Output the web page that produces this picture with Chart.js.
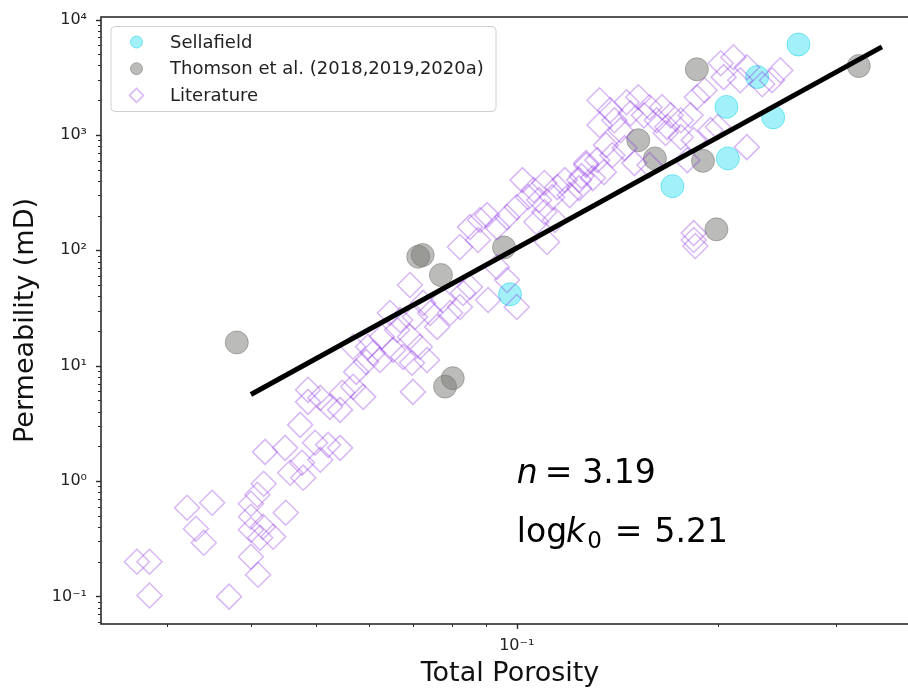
<!DOCTYPE html>
<html>
<head>
<meta charset="utf-8">
<script src="https://cdn.jsdelivr.net/npm/chart.js@4.4.0/dist/chart.umd.min.js"></script>
<style>
  html, body { margin: 0; padding: 0; background: #fff; overflow: hidden; }
  #wrap { width: 908px; height: 690px; overflow: hidden; position: relative; }
  #chart { position: absolute; left: 0; top: 0; }
</style>
</head>
<body>
<div id="wrap"><canvas id="chart" width="933" height="690"></canvas></div>
<script>
// Porosity (fraction) and permeability (mD) for each group of samples
const sellafieldPhi = [0.264, 0.229, 0.206, 0.242, 0.207, 0.171, 0.0977];
const sellafieldK   = [6080, 3180, 1750, 1420, 626, 360, 41.6];

const thomsonPhi = [0.186, 0.152, 0.161, 0.190, 0.325, 0.199, 0.0381, 0.0712, 0.0723, 0.0770, 0.0957, 0.0781, 0.0802];
const thomsonK   = [3710, 900, 626, 597, 3960, 152, 15.9, 88.0, 91.0, 61.1, 106, 6.59, 7.80];

const literaturePhi = [
  0.0270, 0.0282, 0.0282, 0.0321, 0.0350, 0.0331, 0.0340, 0.0371, 0.0400, 0.0400,
  0.0400, 0.0400, 0.0410, 0.0409, 0.0420, 0.0417, 0.0432, 0.0451, 0.0450, 0.0458,
  0.0418, 0.0413, 0.0479, 0.0499, 0.0477, 0.0522, 0.0544, 0.0508, 0.0487, 0.0508,
  0.0525, 0.0548, 0.0569, 0.0589, 0.0544, 0.0487, 0.0569, 0.0599, 0.0609, 0.0624,
  0.0628, 0.0653, 0.0662, 0.0669, 0.0676, 0.0692, 0.0697, 0.0704, 0.0716, 0.0699,
  0.0692, 0.0734, 0.0646, 0.0595, 0.0575, 0.0742, 0.0760, 0.0795, 0.0822, 0.0776,
  0.0724, 0.0831, 0.0851, 0.0906, 0.0934, 0.0967, 0.100, 0.0822, 0.0851, 0.0881,
  0.0903, 0.0934, 0.0967, 0.100, 0.102, 0.104, 0.0875, 0.106, 0.108, 0.110,
  0.113, 0.115, 0.118, 0.120, 0.124, 0.125, 0.127, 0.130, 0.110, 0.107,
  0.111, 0.114, 0.146, 0.152, 0.158, 0.165, 0.170, 0.148, 0.155, 0.162,
  0.168, 0.176, 0.182, 0.176, 0.184, 0.167, 0.195, 0.200, 0.150, 0.158,
  0.180, 0.221, 0.191, 0.186, 0.202, 0.211, 0.204, 0.216, 0.248, 0.241,
  0.233, 0.221, 0.127, 0.124, 0.184, 0.184, 0.185, 0.133, 0.138, 0.133,
  0.143, 0.136, 0.139, 0.145, 0.132, 0.140, 0.0474, 0.135
];
const literatureK = [
  0.200, 0.200, 0.102, 0.587, 0.649, 0.386, 0.292, 0.0996, 0.636, 0.491,
  0.379, 0.221, 0.154, 0.761, 1.79, 0.402, 0.329, 0.532, 1.94, 1.18,
  0.947, 0.323, 1.07, 2.15, 1.44, 2.06, 1.94, 1.53, 6.18, 5.26,
  4.40, 5.82, 6.56, 5.37, 4.14, 4.86, 14.6, 14.6, 12.9, 11.2,
  17.8, 13.7, 20.4, 24.9, 11.9, 17.8, 10.6, 26.4, 14.6, 5.93,
  50.1, 11.2, 28.6, 10.8, 8.84, 28.6, 21.7, 28.6, 32.3, 37.1,
  35.0, 42.7, 48.1, 37.1, 71.7, 55.3, 32.3, 107, 159, 183,
  202, 159, 194, 237, 406, 289, 123, 333, 273, 383,
  289, 353, 406, 301, 346, 440, 548, 423, 215, 176,
  118, 183, 1920, 2120, 1740, 1740, 1480, 1540, 1480, 1340,
  1170, 1340, 1480, 957, 902, 1040, 1100, 1170, 570, 548,
  605, 784, 2440, 2120, 4180, 4710, 3170, 2980, 3640, 2980,
  2750, 3860, 570, 406, 141, 123, 109, 2000, 1640, 1220,
  1100, 816, 668, 769, 605, 1340, 3.07, 476
];

// Power-law fit k = k0 * phi^n
const fitN = 3.19;
const fitLogK0 = 5.21;
const fitPhiRange = [0.04, 0.352];

const xMin = 0.02386, xMax = 0.40;
const yMin = 0.0577, yMax = 10530;

const FONT = "'DejaVu Sans', 'Liberation Sans', sans-serif";
Chart.defaults.font.family = FONT;
Chart.defaults.color = '#222';

const toPoints = (xs, ys) => xs.map((x, i) => ({ x, y: ys[i] }));
const fitLine = fitPhiRange.map(p => ({ x: p, y: Math.pow(10, fitLogK0) * Math.pow(p, fitN) }));

const SUP = { '-': '\u207B', '0': '\u2070', '1': '\u00B9', '2': '\u00B2', '3': '\u00B3',
  '4': '\u2074', '5': '\u2075', '6': '\u2076', '7': '\u2077', '8': '\u2078', '9': '\u2079' };

const isDecade = v => { const e = Math.log10(v); return Math.abs(e - Math.round(e)) < 1e-9; };

function decadeLabel(value) {
  if (!isDecade(value)) return '';
  return '10' + String(Math.round(Math.log10(value))).split('').map(c => SUP[c]).join('');
}

// major ticks at powers of ten, minor ticks at 2..9 times them
function logTicks(scale) {
  const ticks = [];
  for (let d = -3; d <= 5; d++) {
    for (let m = 1; m <= 9; m++) {
      const v = m * Math.pow(10, d);
      if (v >= scale.min && v <= scale.max) ticks.push({ value: v });
    }
  }
  scale.ticks = ticks;
}

// keep the plot box fixed: no extra room reserved for edge labels
function noEdgePadding(s) {
  s.paddingTop = 0; s.paddingBottom = 0; s.paddingLeft = 0; s.paddingRight = 0;
}

const styles = {
  sellafield: { fill: 'rgba(0,215,235,0.36)', stroke: 'rgba(0,205,230,0.45)' },
  thomson: { fill: 'rgba(120,122,115,0.5)', stroke: 'rgba(120,122,115,0.55)' },
  literature: { stroke: 'rgba(138,43,226,0.34)' }
};

function drawMarker(ctx, kind, x, y, r) {
  ctx.beginPath();
  if (kind === 'diamond') {
    ctx.moveTo(x - r, y); ctx.lineTo(x, y - r); ctx.lineTo(x + r, y); ctx.lineTo(x, y + r);
    ctx.closePath();
  } else {
    ctx.arc(x, y, r, 0, Math.PI * 2);
  }
}

const axesDecor = {
  id: 'axesDecor',
  afterDatasetsDraw(chart) {
    const ctx = chart.ctx, a = chart.chartArea;
    ctx.save();
    ctx.strokeStyle = '#2b2b2b';
    // tick marks, outward
    const xs = chart.scales.x, ys = chart.scales.y;
    xs.ticks.forEach(t => {
      const px = Math.round(xs.getPixelForValue(t.value)) + 0.5;
      const len = isDecade(t.value) ? 5 : 3;
      ctx.lineWidth = isDecade(t.value) ? 1.4 : 1;
      ctx.beginPath(); ctx.moveTo(px, a.bottom); ctx.lineTo(px, a.bottom + len); ctx.stroke();
    });
    ys.ticks.forEach(t => {
      const py = Math.round(ys.getPixelForValue(t.value)) + 0.5;
      const len = isDecade(t.value) ? 5 : 3;
      ctx.lineWidth = isDecade(t.value) ? 1.4 : 1;
      ctx.beginPath(); ctx.moveTo(a.left, py); ctx.lineTo(a.left - len, py); ctx.stroke();
    });
    // frame
    ctx.lineWidth = 1.6;
    ctx.strokeRect(a.left, a.top, a.right - a.left, a.bottom - a.top);
    ctx.restore();
  },
  afterDraw(chart) {
    const ctx = chart.ctx, a = chart.chartArea;
    const h = a.bottom - a.top;
    ctx.save();

    // legend box
    const bx = a.left + 10, by = a.top + 9.5, bw = 385, bh = 85, rr = 4;
    ctx.beginPath();
    ctx.moveTo(bx + rr, by);
    ctx.arcTo(bx + bw, by, bx + bw, by + bh, rr);
    ctx.arcTo(bx + bw, by + bh, bx, by + bh, rr);
    ctx.arcTo(bx, by + bh, bx, by, rr);
    ctx.arcTo(bx, by, bx + bw, by, rr);
    ctx.closePath();
    ctx.fillStyle = 'rgba(255,255,255,0.8)';
    ctx.fill();
    ctx.strokeStyle = '#d0d0d0';
    ctx.lineWidth = 1;
    ctx.stroke();

    const entries = [
      { label: chart.data.datasets[3].label, kind: 'circle', st: styles.sellafield },
      { label: chart.data.datasets[2].label, kind: 'circle', st: styles.thomson },
      { label: chart.data.datasets[1].label, kind: 'diamond', st: styles.literature }
    ];
    ctx.font = '18px ' + FONT;
    ctx.textBaseline = 'middle';
    ctx.textAlign = 'left';
    entries.forEach((e, i) => {
      const cy = by + 15.5 + i * 26.7, cx = bx + 25.5;
      if (e.kind === 'diamond') {
        drawMarker(ctx, 'diamond', cx, cy, 7);
        ctx.strokeStyle = e.st.stroke; ctx.lineWidth = 1.5; ctx.stroke();
      } else {
        drawMarker(ctx, 'circle', cx, cy, 6);
        ctx.fillStyle = e.st.fill; ctx.fill();
        ctx.strokeStyle = e.st.stroke; ctx.lineWidth = 1; ctx.stroke();
      }
      ctx.fillStyle = '#222';
      ctx.fillText(e.label, bx + 59, cy + 1);
    });

    // fit parameters, anchored at phi = 0.1 on the x axis
    const big = 33, small = 23;
    const up = big + 'px ' + FONT, it = 'italic ' + big + 'px ' + FONT;
    const x0 = chart.scales.x.getPixelForValue(0.1);
    const y1 = a.top + 0.768 * h, y2 = a.top + 0.865 * h;
    ctx.fillStyle = '#000';
    ctx.textBaseline = 'alphabetic';
    const piece = (txt, font, px, py) => { ctx.font = font; ctx.fillText(txt, px, py); return px + ctx.measureText(txt).width; };

    let x = piece('n', it, x0, y1);
    x = piece('=', up, x + 7, y1);
    piece(fitN.toFixed(2), up, x + 10, y1);

    x = piece('log', up, x0, y2);
    x = piece('k', it, x - 1, y2);
    x = piece('0', small + 'px ' + FONT, x + 2, y2 + 6);
    x = piece('=', up, x + 13, y2);
    piece(fitLogK0.toFixed(2), up, x + 12, y2);
    ctx.restore();
  }
};

new Chart(document.getElementById('chart'), {
  type: 'scatter',
  data: {
    datasets: [
      {
        label: 'fit', data: fitLine, showLine: true, order: 0,
        borderColor: '#000', borderWidth: 5, borderCapStyle: 'butt', pointRadius: 0, fill: false
      },
      {
        label: 'Literature', data: toPoints(literaturePhi, literatureK), order: 1,
        pointStyle: 'rectRot', pointRadius: 12.5, pointBackgroundColor: 'rgba(0,0,0,0)',
        pointBorderColor: styles.literature.stroke, pointBorderWidth: 1.5
      },
      {
        label: 'Thomson et al. (2018,2019,2020a)', data: toPoints(thomsonPhi, thomsonK), order: 2,
        pointStyle: 'circle', pointRadius: 11.5, pointBackgroundColor: styles.thomson.fill,
        pointBorderColor: styles.thomson.stroke, pointBorderWidth: 1
      },
      {
        label: 'Sellafield', data: toPoints(sellafieldPhi, sellafieldK), order: 3,
        pointStyle: 'circle', pointRadius: 11.5, pointBackgroundColor: styles.sellafield.fill,
        pointBorderColor: styles.sellafield.stroke, pointBorderWidth: 1
      }
    ]
  },
  options: {
    responsive: false,
    animation: false,
    devicePixelRatio: 1,
    layout: { padding: { top: 17, right: 0, bottom: 0, left: 0 } },
    plugins: { legend: { display: false }, tooltip: { enabled: false } },
    scales: {
      x: {
        type: 'logarithmic', min: xMin, max: xMax,
        grid: { display: false, drawTicks: false }, border: { display: false },
        afterBuildTicks: logTicks,
        afterFit(s) { s.height = 66; noEdgePadding(s); },
        ticks: { autoSkip: false, maxRotation: 0, padding: 12, font: { size: 16 }, color: '#222', callback: decadeLabel },
        title: { display: true, text: 'Total Porosity', font: { size: 27 }, color: '#111', padding: { top: 1, bottom: 0 } }
      },
      y: {
        type: 'logarithmic', min: yMin, max: yMax,
        grid: { display: false, drawTicks: false }, border: { display: false },
        afterBuildTicks: logTicks,
        afterFit(s) { s.width = 101; noEdgePadding(s); },
        ticks: { autoSkip: false, padding: 14, font: { size: 16 }, color: '#222', callback: decadeLabel },
        title: { display: true, text: 'Permeability (mD)', font: { size: 27 }, color: '#111', padding: { top: 10, bottom: 0 } }
      }
    }
  },
  plugins: [axesDecor]
});
</script>
</body>
</html>
